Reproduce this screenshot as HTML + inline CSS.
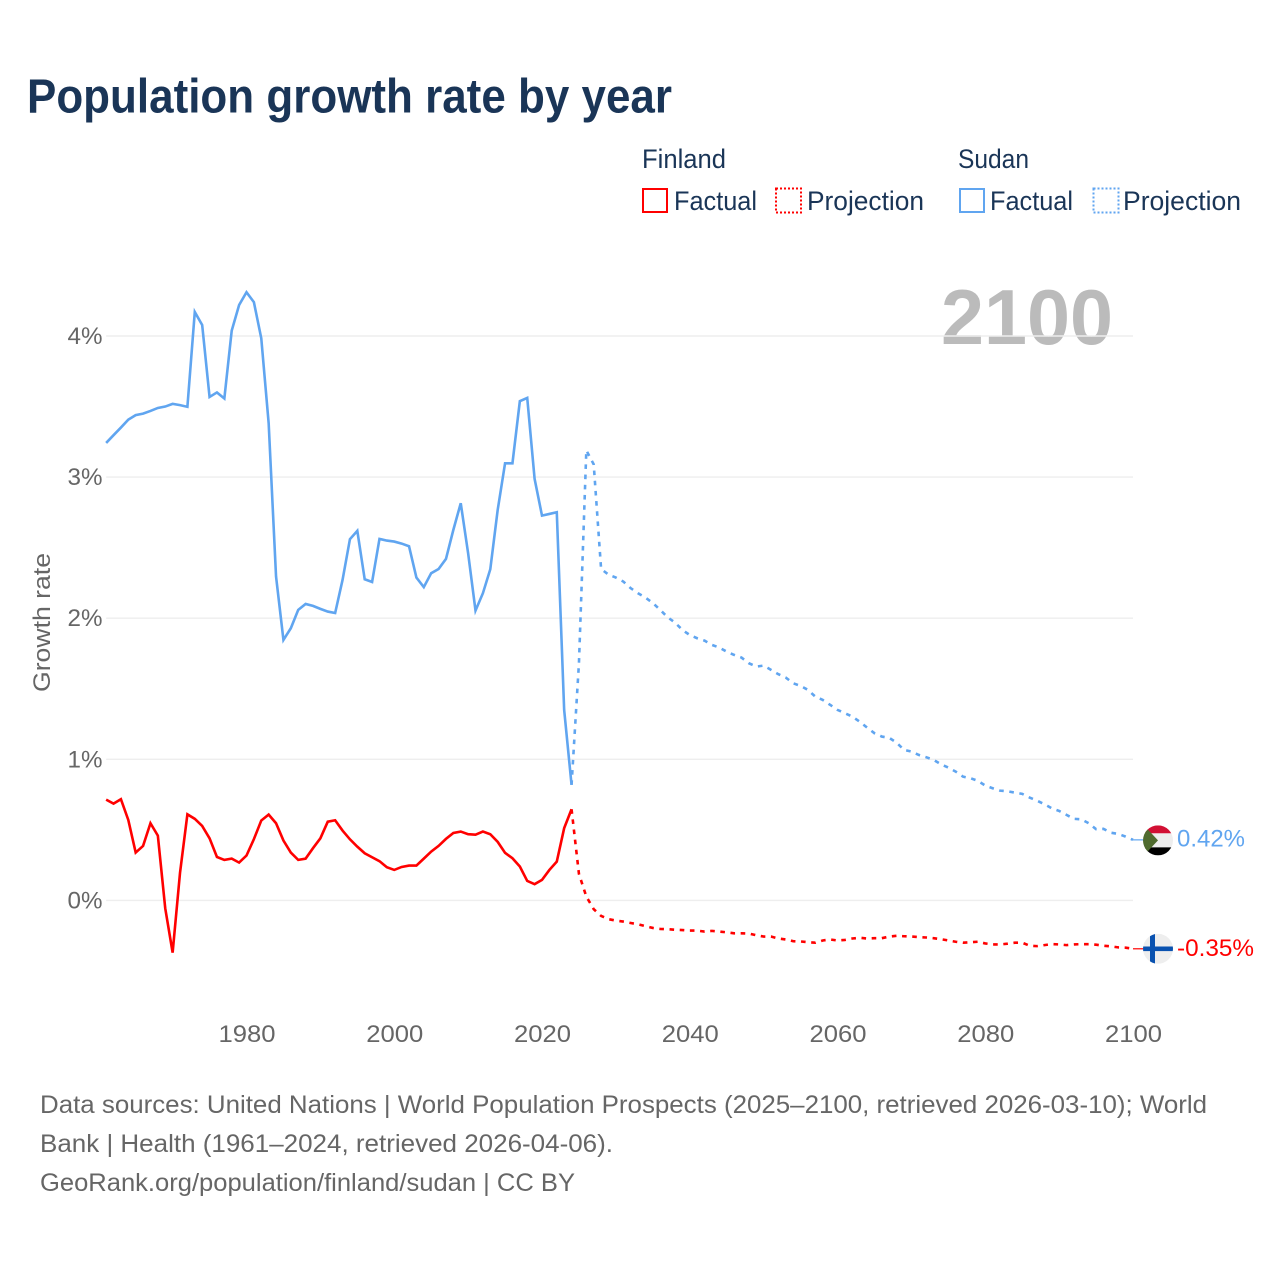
<!DOCTYPE html>
<html lang="en">
<head>
<meta charset="utf-8">
<title>Population growth rate by year</title>
<style>
html,body{margin:0;padding:0;background:#fff;}
svg{display:block;font-family:"Liberation Sans",sans-serif;}
</style>
</head>
<body>
<svg id="chart" width="1280" height="1280" viewBox="0 0 1280 1280" xmlns="http://www.w3.org/2000/svg">
  <rect x="0" y="0" width="1280" height="1280" fill="#fff"/>
  <text x="27" y="112.5" font-size="48" font-weight="700" fill="#1a3557" textLength="645" lengthAdjust="spacingAndGlyphs">Population growth rate by year</text>

  <g font-size="27" fill="#1a3557">
    <text x="642" y="168" textLength="84" lengthAdjust="spacingAndGlyphs">Finland</text>
    <text x="958" y="168" textLength="71" lengthAdjust="spacingAndGlyphs">Sudan</text>
    <rect x="643" y="189" width="24" height="23" fill="none" stroke="#ff0000" stroke-width="2"/>
    <text x="674" y="210" textLength="83" lengthAdjust="spacingAndGlyphs">Factual</text>
    <rect x="776" y="188.5" width="25" height="24" fill="none" stroke="#ff0000" stroke-width="2" stroke-dasharray="2 2"/>
    <text x="807" y="210" textLength="117" lengthAdjust="spacingAndGlyphs">Projection</text>
    <rect x="960" y="189" width="24" height="23" fill="none" stroke="#60a5f0" stroke-width="2"/>
    <text x="990" y="210" textLength="83" lengthAdjust="spacingAndGlyphs">Factual</text>
    <rect x="1093.5" y="188.5" width="25" height="24" fill="none" stroke="#60a5f0" stroke-width="2" stroke-dasharray="2 2"/>
    <text x="1123" y="210" textLength="118" lengthAdjust="spacingAndGlyphs">Projection</text>
  </g>

  <text x="941" y="344" font-size="78" font-weight="700" fill="#bbbbbb" textLength="172" lengthAdjust="spacingAndGlyphs">2100</text>

  <g id="grid"></g>
  <g id="yTicks" font-size="24" fill="#666"></g>
  <g id="xTicks" font-size="24" fill="#666"></g>
  <text transform="translate(50,622.5) rotate(-90)" text-anchor="middle" font-size="24" fill="#666" textLength="139" lengthAdjust="spacingAndGlyphs">Growth rate</text>

  <g id="series"></g>

  <defs>
    <clipPath id="flagClip"><circle cx="0" cy="0" r="15"/></clipPath>
  </defs>

  <g id="flagSudan" clip-path="url(#flagClip)">
    <rect x="-15" y="-15" width="30" height="8" fill="#d21034"/>
    <rect x="-15" y="-7" width="30" height="14" fill="#eeeeee"/>
    <rect x="-15" y="7" width="30" height="8" fill="#000"/>
    <polygon points="-15,-16 0,0 -15,16" fill="#4f6b2e"/>
  </g>
  <g id="flagFinland" clip-path="url(#flagClip)">
    <rect x="-15" y="-15" width="30" height="30" fill="#eeeeee"/>
    <rect x="-15" y="-2.3" width="30" height="4.6" fill="#0a52b0"/>
    <rect x="-8" y="-15" width="5" height="30" fill="#0a52b0"/>
  </g>
  <text id="labelSudan" x="1177" font-size="24" fill="#60a5f0" textLength="68" lengthAdjust="spacingAndGlyphs"></text>
  <text id="labelFinland" x="1177" font-size="24" fill="#ff0000" textLength="77" lengthAdjust="spacingAndGlyphs"></text>

  <g font-size="25" fill="#666">
    <text x="40" y="1113" textLength="1167" lengthAdjust="spacingAndGlyphs">Data sources: United Nations | World Population Prospects (2025–2100, retrieved 2026-03-10); World</text>
    <text x="40" y="1152" textLength="573" lengthAdjust="spacingAndGlyphs">Bank | Health (1961–2024, retrieved 2026-04-06).</text>
    <text x="40" y="1191" textLength="535" lengthAdjust="spacingAndGlyphs">GeoRank.org/population/finland/sudan | CC BY</text>
  </g>
</svg>

<script>
const factualYears = [1961,1962,1963,1964,1965,1966,1967,1968,1969,1970,1971,1972,1973,1974,1975,1976,1977,1978,1979,1980,1981,1982,1983,1984,1985,1986,1987,1988,1989,1990,1991,1992,1993,1994,1995,1996,1997,1998,1999,2000,2001,2002,2003,2004,2005,2006,2007,2008,2009,2010,2011,2012,2013,2014,2015,2016,2017,2018,2019,2020,2021,2022,2023,2024];
const projectionYears = [2024,2025,2026,2027,2028,2029,2030,2031,2032,2033,2034,2035,2036,2037,2038,2039,2040,2041,2042,2043,2044,2045,2046,2047,2048,2049,2050,2051,2052,2053,2054,2055,2056,2057,2058,2059,2060,2061,2062,2063,2064,2065,2066,2067,2068,2069,2070,2071,2072,2073,2074,2075,2076,2077,2078,2079,2080,2081,2082,2083,2084,2085,2086,2087,2088,2089,2090,2091,2092,2093,2094,2095,2096,2097,2098,2099,2100];

const finlandFactual = [0.714,0.686,0.717,0.57,0.339,0.386,0.547,0.459,-0.056,-0.37,0.195,0.61,0.578,0.528,0.44,0.308,0.287,0.296,0.268,0.318,0.434,0.566,0.608,0.547,0.424,0.339,0.287,0.296,0.37,0.44,0.558,0.568,0.495,0.433,0.381,0.334,0.306,0.278,0.235,0.216,0.237,0.247,0.247,0.296,0.346,0.386,0.436,0.478,0.488,0.469,0.466,0.488,0.469,0.415,0.337,0.299,0.24,0.138,0.115,0.145,0.216,0.275,0.512,0.646];
const finlandProjection = [0.646,0.188,0.027,-0.062,-0.11,-0.133,-0.143,-0.15,-0.16,-0.169,-0.183,-0.195,-0.202,-0.204,-0.208,-0.21,-0.214,-0.214,-0.221,-0.216,-0.221,-0.226,-0.233,-0.233,-0.235,-0.247,-0.256,-0.256,-0.27,-0.277,-0.289,-0.291,-0.296,-0.3,-0.284,-0.277,-0.284,-0.28,-0.27,-0.265,-0.27,-0.268,-0.268,-0.256,-0.251,-0.254,-0.256,-0.26,-0.263,-0.268,-0.275,-0.284,-0.293,-0.3,-0.296,-0.293,-0.305,-0.312,-0.312,-0.307,-0.3,-0.3,-0.321,-0.324,-0.317,-0.31,-0.312,-0.317,-0.312,-0.31,-0.31,-0.314,-0.321,-0.326,-0.333,-0.335,-0.343];
const sudanFactual = [3.242,3.297,3.351,3.407,3.439,3.45,3.469,3.49,3.5,3.519,3.51,3.498,4.17,4.078,3.568,3.6,3.557,4.038,4.22,4.31,4.24,3.984,3.382,2.295,1.846,1.929,2.059,2.101,2.087,2.066,2.047,2.037,2.271,2.56,2.619,2.276,2.257,2.562,2.55,2.543,2.529,2.51,2.288,2.22,2.319,2.349,2.42,2.626,2.815,2.46,2.054,2.177,2.347,2.767,3.098,3.098,3.538,3.561,2.987,2.727,2.739,2.751,1.35,0.819];
const sudanProjection = [0.819,1.68,3.19,3.09,2.349,2.309,2.288,2.26,2.213,2.177,2.146,2.108,2.059,2.007,1.969,1.917,1.881,1.858,1.841,1.811,1.792,1.763,1.74,1.721,1.681,1.657,1.664,1.634,1.603,1.579,1.539,1.52,1.492,1.444,1.421,1.386,1.35,1.327,1.303,1.267,1.225,1.185,1.161,1.152,1.118,1.067,1.055,1.031,1.015,0.996,0.965,0.941,0.913,0.877,0.866,0.847,0.814,0.795,0.778,0.773,0.764,0.755,0.729,0.707,0.682,0.653,0.634,0.606,0.578,0.575,0.547,0.505,0.507,0.48,0.471,0.452,0.429];

const yTickValues = [0,1,2,3,4];
const yTickLabels = ['0%','1%','2%','3%','4%'];
const xTickYears = [1980,2000,2020,2040,2060,2080,2100];
const xTickLabels = ['1980','2000','2020','2040','2060','2080','2100'];
const endLabelSudan = '0.42%';
const endLabelFinland = '-0.35%';

const SVG_NS = 'http://www.w3.org/2000/svg';
function xScale(year){ return 246.5 + (year - 1980) * 7.3875; }
function yScale(value){ return 900.4 - value * 141.1; }
function pathFrom(years, values){
  return years.map(function(yr, i){
    return (i ? 'L' : 'M') + xScale(yr).toFixed(2) + ' ' + yScale(values[i]).toFixed(2);
  }).join('');
}

const gridLayer = document.getElementById('grid');
const yTickLayer = document.getElementById('yTicks');
yTickValues.forEach(function(v, i){
  const line = document.createElementNS(SVG_NS, 'line');
  
  
  line.setAttribute('x1', xScale(1961));
  line.setAttribute('x2', xScale(2100));
  line.setAttribute('y1', yScale(v));
  line.setAttribute('y2', yScale(v));
  line.setAttribute('stroke', '#eeeeee');
  line.setAttribute('stroke-width', '1.4');
  gridLayer.appendChild(line);

  const label = document.createElementNS(SVG_NS, 'text');
  
  
  label.setAttribute('x', 102.5);
  label.setAttribute('y', yScale(v) + 8);
  label.setAttribute('text-anchor', 'end');
  label.setAttribute('textLength', '35');
  label.setAttribute('lengthAdjust', 'spacingAndGlyphs');
  label.textContent = yTickLabels[i];
  yTickLayer.appendChild(label);
});

const xTickLayer = document.getElementById('xTicks');
xTickYears.forEach(function(yr, i){
  const label = document.createElementNS(SVG_NS, 'text');
  
  
  label.setAttribute('x', xScale(yr) + 0.5);
  label.setAttribute('y', 1042);
  label.setAttribute('text-anchor', 'middle');
  label.setAttribute('textLength', '57');
  label.setAttribute('lengthAdjust', 'spacingAndGlyphs');
  label.textContent = xTickLabels[i];
  xTickLayer.appendChild(label);
});

const seriesLayer = document.getElementById('series');
function drawLine(years, values, color, dashed, name){
  const p = document.createElementNS(SVG_NS, 'path');
  
  
  p.setAttribute('d', pathFrom(years, values));
  p.setAttribute('fill', 'none');
  p.setAttribute('stroke', color);
  p.setAttribute('stroke-width', '2.6');
  p.setAttribute('stroke-linejoin', 'miter');
  if (dashed) { p.setAttribute('stroke-dasharray', '4.6 5.6'); }
  seriesLayer.appendChild(p);
}
drawLine(factualYears, sudanFactual, '#60a5f0', false, 'sudan-factual-line');
drawLine(projectionYears, sudanProjection, '#60a5f0', true, 'sudan-projection-line');
drawLine(factualYears, finlandFactual, '#ff0000', false, 'finland-factual-line');
drawLine(projectionYears, finlandProjection, '#ff0000', true, 'finland-projection-line');

function drawConnector(value, color, name){
  const c = document.createElementNS(SVG_NS, 'line');
  
  
  c.setAttribute('x1', xScale(2100));
  c.setAttribute('x2', 1144);
  c.setAttribute('y1', yScale(value));
  c.setAttribute('y2', yScale(value));
  c.setAttribute('stroke', color);
  c.setAttribute('stroke-width', '1.2');
  seriesLayer.appendChild(c);
}
const lastSudan = sudanProjection[sudanProjection.length - 1];
const lastFinland = finlandProjection[finlandProjection.length - 1];
drawConnector(lastSudan, '#60a5f0', 'sudan-end-connector');
drawConnector(lastFinland, '#ff0000', 'finland-end-connector');

document.getElementById('flagSudan').setAttribute('transform', 'translate(1158,' + (yScale(lastSudan) + 0.5) + ')');
document.getElementById('flagFinland').setAttribute('transform', 'translate(1158,' + yScale(lastFinland) + ')');
const labelSudan = document.getElementById('labelSudan');
labelSudan.setAttribute('y', yScale(lastSudan) + 6.5);
labelSudan.textContent = endLabelSudan;
const labelFinland = document.getElementById('labelFinland');
labelFinland.setAttribute('y', yScale(lastFinland) + 7);
labelFinland.textContent = endLabelFinland;
</script>
</body>
</html>
